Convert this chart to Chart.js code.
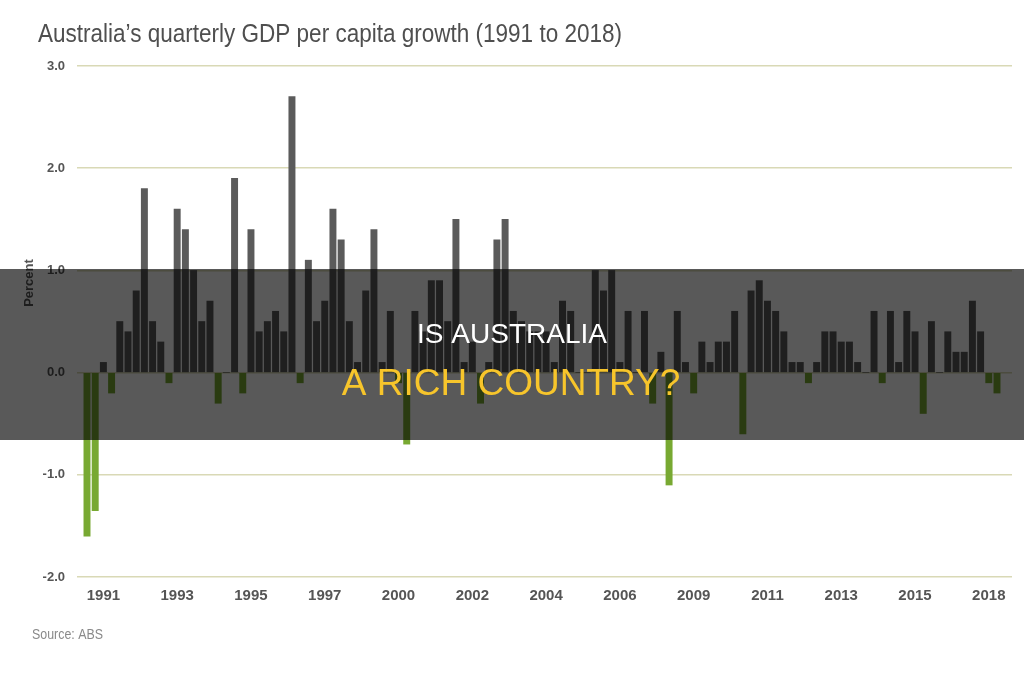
<!DOCTYPE html>
<html><head><meta charset="utf-8">
<script src="https://cdn.jsdelivr.net/npm/chart.js@4/dist/chart.umd.min.js"></script>
<style>html,body{margin:0;padding:0;background:#fff;} #wrap{width:1024px;height:675px;position:relative;}</style>
</head><body><div id="wrap"><canvas id="c" width="1024" height="675"></canvas></div>
<script>
// ---- data ----
const startYear = 1990;
const startQuarter = 3;
const growth = [
  -1.6, -1.35, 0.1, -0.2, 0.5, 0.4, 0.8, 1.8, 0.5, 0.3,
  -0.1, 1.6, 1.4, 1.0, 0.5, 0.7, -0.3, 0.0, 1.9, -0.2,
  1.4, 0.4, 0.5, 0.6, 0.4, 2.7, -0.1, 1.1, 0.5, 0.7,
  1.6, 1.3, 0.5, 0.1, 0.8, 1.4, 0.1, 0.6, -0.1, -0.7,
  0.6, 0.4, 0.9, 0.9, 0.5, 1.5, 0.1, 0.3, -0.3, 0.1,
  1.3, 1.5, 0.6, 0.5, 0.4, 0.4, 0.4, 0.1, 0.7, 0.6,
  0.0, 0.0, 1.0, 0.8, 1.0, 0.1, 0.6, 0.0, 0.6, -0.3,
  0.2, -1.1, 0.6, 0.1, -0.2, 0.3, 0.1, 0.3, 0.3, 0.6,
  -0.6, 0.8, 0.9, 0.7, 0.6, 0.4, 0.1, 0.1, -0.1, 0.1,
  0.4, 0.4, 0.3, 0.3, 0.1, 0.0, 0.6, -0.1, 0.6, 0.1,
  0.6, 0.4, -0.4, 0.5, 0.0, 0.4, 0.2, 0.2, 0.7, 0.4,
  -0.1, -0.2
];
const tickYears = ['1991','1993','1995','1997','2000','2002','2004','2006','2009','2011','2013','2015','2018'];
const tickFirst = 3;   // quarter number (1-based) of the first labelled tick
const tickStep = 9;    // quarters between labelled ticks
const yTicks = [-2, -1, 0, 1, 2, 3];

const quarters = growth.map((_, i) => {
  const q = startQuarter - 1 + i;
  return (startYear + Math.floor(q / 4)) + ' Q' + (q % 4 + 1);
});
const points = growth.map((v, i) => ({ x: i + 1, y: v }));
const tickValues = tickYears.map((_, k) => tickFirst + k * tickStep);

const POS = '#5b5b5b', NEG = '#78a932';

function fitText(ctx, text, x, y, font, color, width, align) {
  ctx.save();
  ctx.font = font;
  ctx.fillStyle = color;
  ctx.textBaseline = 'alphabetic';
  const w = ctx.measureText(text).width;
  const s = width ? width / w : 1;
  ctx.translate(x, y);
  ctx.scale(s, 1);
  ctx.textAlign = align || 'left';
  ctx.fillText(text, 0, 0);
  ctx.restore();
}

const decor = {
  id: 'decor',
  beforeDatasetsDraw(chart) {
    const ctx = chart.ctx;
    ctx.save();
    ctx.translate(29, 283);
    ctx.rotate(-Math.PI / 2);
    ctx.font = 'bold 13px "Liberation Sans", Arial, sans-serif';
    ctx.fillStyle = '#555';
    ctx.textAlign = 'center';
    ctx.textBaseline = 'middle';
    ctx.fillText('Percent', 0, 0);
    ctx.restore();
  },
  afterDraw(chart) {
    const ctx = chart.ctx;
    fitText(ctx, 'Australia\u2019s quarterly GDP per capita growth (1991 to 2018)', 38, 42,
      '26px "Liberation Sans", Arial, sans-serif', '#4f4f4f', 584);
    fitText(ctx, 'Source: ABS', 32, 639, '14px "Liberation Sans", Arial, sans-serif', '#8a8a8a', 71);
    // banner overlay
    ctx.save();
    ctx.fillStyle = 'rgba(0,0,0,0.65)';
    ctx.fillRect(0, 269, 1024, 171);
    ctx.textAlign = 'center';
    ctx.textBaseline = 'alphabetic';
    ctx.fillStyle = '#ffffff';
    ctx.font = '28px "Liberation Sans", Arial, sans-serif';
    ctx.fillText('IS AUSTRALIA', 512, 343);
    ctx.fillStyle = '#f7c52b';
    ctx.font = '37px "Liberation Sans", Arial, sans-serif';
    ctx.fillText('A RICH COUNTRY?', 511, 395);
    ctx.restore();
  }
};

new Chart(document.getElementById('c'), {
  type: 'bar',
  data: {
    labels: quarters,
    datasets: [{
      data: points,
      backgroundColor: growth.map(v => v < 0 ? NEG : POS),
      borderWidth: 0,
      barThickness: 6.3
    }]
  },
  options: {
    responsive: false,
    devicePixelRatio: 1,
    animation: false,
    layout: { padding: { left: 0, right: 12, top: 66, bottom: 58 } },
    plugins: { legend: { display: false }, tooltip: { enabled: false }, title: { display: false } },
    scales: {
      x: {
        type: 'linear',
        offset: false,
        min: -0.22,
        max: 113.83,
        grid: { display: false, drawTicks: false, offset: false },
        border: { display: false },
        afterBuildTicks(scale) { scale.ticks = tickValues.map(v => ({ value: v })); },
        afterFit(scale) { scale.height = 40; },
        ticks: {
          autoSkip: false,
          maxRotation: 0,
          padding: 10,
          color: '#555',
          font: { family: '"Liberation Sans", Arial, sans-serif', size: 15, weight: 'bold' },
          callback: (v) => { const k = tickValues.indexOf(v); return k >= 0 ? tickYears[k] : ''; }
        }
      },
      y: {
        min: -2,
        max: 3,
        afterBuildTicks(scale) { scale.ticks = yTicks.map(v => ({ value: v })); },
        afterFit(scale) { scale.width = 77; },
        grid: { color: '#d9d9b6', lineWidth: 1.5, drawTicks: false },
        border: { display: false },
        ticks: {
          padding: 12,
          color: '#555',
          font: { family: '"Liberation Sans", Arial, sans-serif', size: 13, weight: 'bold' },
          callback: (v) => Number(v).toFixed(1)
        }
      }
    }
  },
  plugins: [decor]
});
</script>
</body></html>
